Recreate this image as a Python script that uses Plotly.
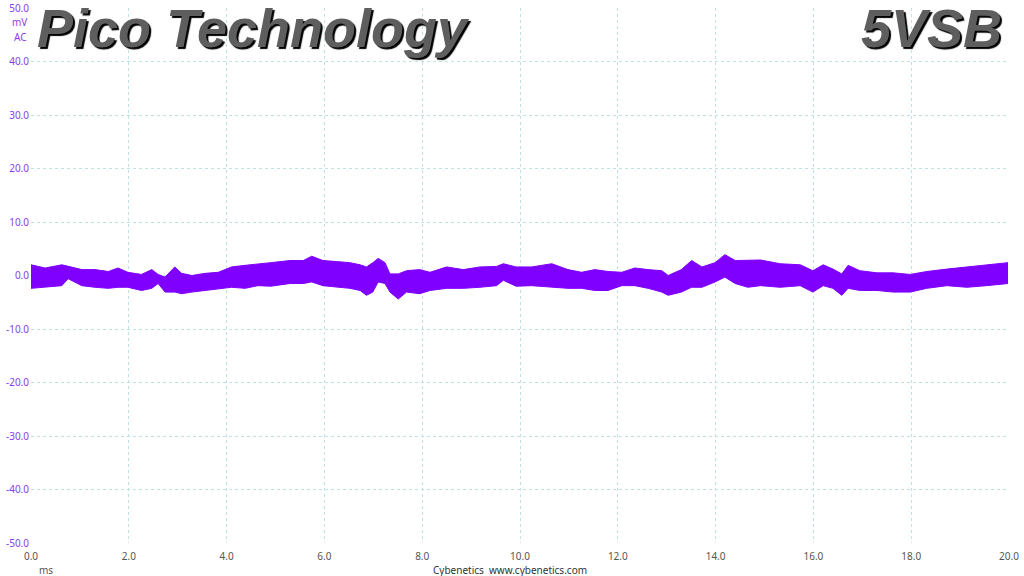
import plotly.graph_objects as go

# Envelope of the ripple trace (ms, mV)
time_ms = [0.0, 0.29, 0.63, 0.76, 1.04, 1.31, 1.58, 1.78, 1.98, 2.26, 2.47, 2.6, 2.74, 2.94,
           3.08, 3.29, 3.56, 3.83, 4.1, 4.38, 4.64, 4.9, 5.3, 5.57, 5.74, 5.97, 6.25, 6.52,
           6.73, 6.86, 6.99, 7.1, 7.24, 7.34, 7.51, 7.68, 7.95, 8.16, 8.5, 8.84, 9.18, 9.52,
           9.66, 9.92, 10.24, 10.65, 10.98, 11.26, 11.53, 11.8, 12.08, 12.35, 12.62, 12.9,
           13.03, 13.3, 13.51, 13.72, 13.99, 14.19, 14.4, 14.66, 14.92, 15.32, 15.73, 15.99,
           16.2, 16.4, 16.58, 16.71, 16.95, 17.3, 17.63, 17.98, 18.32, 18.73, 19.14, 19.54, 19.98]
upper_mv = [2.0, 1.4, 2.0, 1.7, 1.1, 1.1, 0.75, 1.4, 0.6, 0.2, 1.1, 0.2, -0.3, 1.6,
            0.4, 0.0, 0.4, 0.6, 1.6, 1.9, 2.2, 2.4, 2.8, 2.8, 3.6, 2.8, 2.6, 2.4,
            2.0, 1.6, 2.4, 3.2, 2.4, 0.3, 0.3, 0.9, 1.1, 0.6, 1.6, 1.1, 1.6, 1.7,
            2.2, 1.6, 1.6, 2.2, 1.1, 0.6, 1.1, 0.75, 0.6, 1.4, 1.1, 0.9,
            0.0, 1.1, 2.8, 1.6, 2.4, 3.9, 2.8, 2.8, 2.9, 2.2, 2.0, 0.9,
            2.0, 1.2, 0.3, 1.9, 0.9, 0.5, 0.5, 0.2, 0.75, 1.2, 1.6, 2.0, 2.4]
lower_mv = [-2.4, -2.2, -1.9, -0.6, -1.9, -2.2, -2.4, -2.2, -2.2, -2.8, -2.4, -1.5, -3.1, -3.1,
            -3.4, -3.1, -2.8, -2.4, -2.2, -2.4, -1.9, -2.0, -1.5, -1.5, -1.2, -1.9, -2.2, -2.4,
            -2.8, -3.7, -3.1, -1.2, -1.5, -3.1, -4.4, -3.1, -3.4, -2.8, -2.4, -2.4, -2.2, -1.9,
            -0.9, -2.0, -1.9, -2.2, -2.4, -2.4, -2.8, -2.8, -1.9, -1.9, -2.4, -3.1,
            -3.7, -3.1, -2.2, -2.2, -1.2, -0.3, -1.5, -2.2, -1.9, -2.2, -1.9, -3.1,
            -1.9, -2.4, -3.7, -2.4, -2.8, -2.8, -3.1, -3.1, -2.4, -1.9, -2.2, -1.9, -1.5]

x_ticks = [0, 2, 4, 6, 8, 10, 12, 14, 16, 18, 20]
y_ticks = [50, 40, 30, 20, 10, 0, -10, -20, -30, -40, -50]

TRACE = "#7f00ff"
PURPLE_TXT = "#8a3ee6"
GRID = "#bfe3e3"
FONT = "Noto Sans"

fig = go.Figure()
fig.add_trace(go.Scatter(x=time_ms, y=lower_mv, mode="lines",
                         line=dict(color=TRACE, width=1), hoverinfo="skip", showlegend=False))
fig.add_trace(go.Scatter(x=time_ms, y=upper_mv, mode="lines", fill="tonexty",
                         fillcolor=TRACE, line=dict(color=TRACE, width=1),
                         hoverinfo="skip", showlegend=False))

fig.update_layout(
    width=1024, height=576,
    margin=dict(l=31, r=15, t=8, b=33, autoexpand=False),
    paper_bgcolor="white", plot_bgcolor="white",
    font=dict(family=FONT, size=10, color="#555555"),
    xaxis=dict(range=[0, 20], tickvals=x_ticks, ticktext=[f"{v:.1f}" for v in x_ticks],
               showgrid=True, gridcolor=GRID, griddash="3px,3px", gridwidth=1,
               zeroline=False, showline=False, ticks="", automargin=False,
               ticklabelstandoff=6,
               tickfont=dict(family=FONT, size=10, color="#555555")),
    yaxis=dict(range=[-50, 50], tickvals=y_ticks, ticktext=[f"{v:.1f}" for v in y_ticks],
               showgrid=True, gridcolor=GRID, griddash="3px,3px", gridwidth=1,
               zeroline=False, showline=False, ticks="", ticklabelstandoff=1, automargin=False,
               tickfont=dict(family=FONT, size=10, color=PURPLE_TXT)),
)

title_font = dict(family="Liberation Sans", size=54, color="#5e5e5e",
                  weight="bold", style="italic", shadow="2px 2px 1px #000000")
fig.add_annotation(text="Pico Technology", xref="paper", yref="paper",
                   x=0.004, y=0.962, xanchor="left", yanchor="middle",
                   showarrow=False, font=title_font)
fig.add_annotation(text="5VSB", xref="paper", yref="paper",
                   x=0.995, y=0.962, xanchor="right", yanchor="middle",
                   showarrow=False, font=title_font)

small_purple = dict(family=FONT, size=10, color=PURPLE_TXT)
fig.add_annotation(text="mV", xref="paper", yref="paper", x=-0.002, y=0.974,
                   xanchor="right", yanchor="middle", showarrow=False, font=small_purple)
fig.add_annotation(text="AC", xref="paper", yref="paper", x=-0.002, y=0.946,
                   xanchor="right", yanchor="middle", showarrow=False, font=small_purple)
fig.add_annotation(text="ms", xref="paper", yref="paper", x=0.006, y=-0.050,
                   xanchor="left", yanchor="middle", showarrow=False,
                   font=dict(family=FONT, size=10, color="#555555"))
fig.add_annotation(text="Cybenetics&nbsp;&nbsp;www.cybenetics.com", xref="paper", yref="paper",
                   x=0.49, y=-0.050, xanchor="center", yanchor="middle", showarrow=False,
                   font=dict(family=FONT, size=10, color="#333333"))

fig.write_html("out.html", config={"displayModeBar": False},
               post_script="document.body.style.margin='0';")
